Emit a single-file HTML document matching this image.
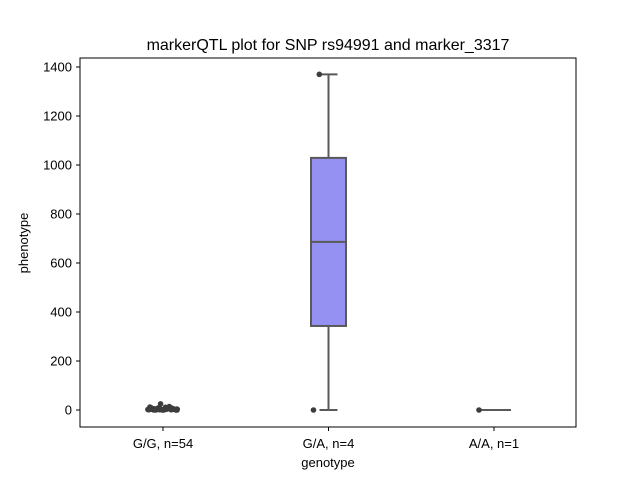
<!DOCTYPE html>
<html><head><meta charset="utf-8"><style>
body{margin:0;background:#fff}
svg{display:block;font-family:"Liberation Sans","DejaVu Sans",sans-serif}
</style></head><body>
<svg id="chart" width="640" height="480">
<rect width="640" height="480" fill="#fff"/>
<text x="328" y="50" font-size="16" text-anchor="middle">markerQTL plot for SNP rs94991 and marker_3317</text>
<g id="plot"></g>
<rect x="80" y="58" width="496" height="369" fill="none" stroke="#000" stroke-width="1"/>
<text x="328" y="467" font-size="13" text-anchor="middle">genotype</text>
<text transform="translate(28,243) rotate(-90)" font-size="13" text-anchor="middle">phenotype</text>
</svg>
<script>
const categories=["G/G, n=54","G/A, n=4","A/A, n=1"];
const yTicks=[0,200,400,600,800,1000,1200,1400];
const ggValues=[2,5,1,8,3,0,4,6,2,10,1,3,7,0,5,2,9,4,1,6,3,12,0,2,8,5,1,4,25,3,7,2,0,6,11,1,4,3,9,2,5,0,7,3,1,14,2,6,4,0,8,3,5,1];
const gaValues=[0,343,1029,1370];
const aaValues=[0];
const gaBox={min:0,q1:343,median:686,q3:1029,max:1370};
const ns="http://www.w3.org/2000/svg";
const plot=document.getElementById('plot');
const svg=document.getElementById('chart');
const yScale=v=>410-v*0.245;
const xScale=i=>163+i*165.5;
function mk(tag,attrs,parent){const e=document.createElementNS(ns,tag);for(const k in attrs)e.setAttribute(k,attrs[k]);(parent||plot).appendChild(e);return e;}
yTicks.forEach(t=>{
 const y=yScale(t);
 const l=mk('line',{x1:76,x2:80,y1:y,y2:y,stroke:'#000'},svg);
 
 
 const tx=mk('text',{x:72,y:y+4.5,'font-size':13,'text-anchor':'end'},svg);
 tx.textContent=t;
 
 
});
categories.forEach((c,i)=>{
 const x=xScale(i);
 const l=mk('line',{x1:x,x2:x,y1:427,y2:431,stroke:'#000'},svg);
 
 
 const tx=mk('text',{x:x,y:448,'font-size':13,'text-anchor':'middle'},svg);
 tx.textContent=c;
 
 
});
// G/A box
const cx=xScale(1),hw=17.5,col='#595959';
const wl=mk('line',{x1:cx,x2:cx,y1:yScale(gaBox.q3),y2:yScale(gaBox.max),stroke:col,'stroke-width':2});


const wl2=mk('line',{x1:cx,x2:cx,y1:yScale(gaBox.q1),y2:yScale(gaBox.min),stroke:col,'stroke-width':2});


[gaBox.max,gaBox.min].forEach(v=>{
 const c=mk('line',{x1:cx-9,x2:cx+9,y1:yScale(v),y2:yScale(v),stroke:col,'stroke-width':2});
 
 
});
const box=mk('rect',{x:cx-hw,y:yScale(gaBox.q3),width:hw*2,height:yScale(gaBox.q1)-yScale(gaBox.q3),fill:'#9591f2',stroke:col,'stroke-width':2});


const med=mk('line',{x1:cx-hw,x2:cx+hw,y1:yScale(gaBox.median),y2:yScale(gaBox.median),stroke:col,'stroke-width':2});


// A/A flat box
const ax=xScale(2);
const aal=mk('line',{x1:ax-17,x2:ax+17,y1:yScale(aaValues[0]),y2:yScale(aaValues[0]),stroke:col,'stroke-width':2});


// G/G flat box
const gl=mk('line',{x1:xScale(0)-17,x2:xScale(0)+17,y1:yScale(4),y2:yScale(4),stroke:col,'stroke-width':2});


function strip(vals,i,name){
 vals.forEach((v,j)=>{
  const jit=((j*37)%31)/31*30-15;
  const p=mk('circle',{cx:xScale(i)+jit,cy:yScale(v),r:2.8,fill:'#3d3d3d'});
  
  
 });
}
strip(ggValues,0,'point-g-g');
strip([0,1370],1,'point-g-a');
strip(aaValues,2,'point-a-a');
</script>
</body></html>
